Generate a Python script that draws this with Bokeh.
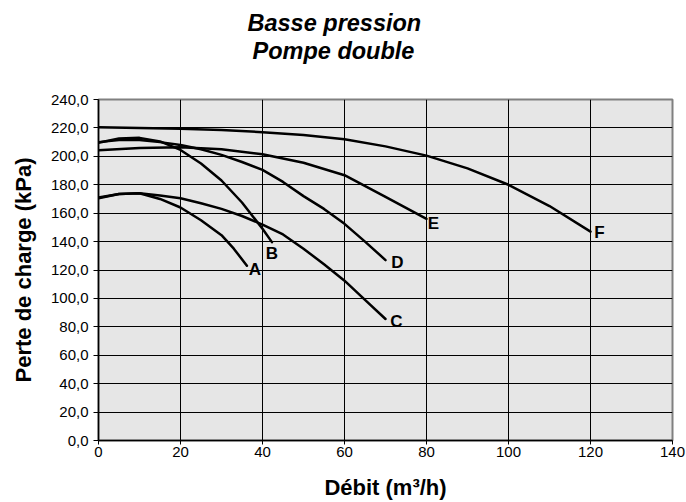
from bokeh.plotting import figure
from bokeh.models import Title, FixedTicker, Range1d, ColumnDataSource
from bokeh.core.properties import value
from bokeh.embed import file_html
from bokeh.resources import INLINE

# ---- data ----
title_lines = ["Basse pression", "Pompe double"]
x_label = "Débit (m³/h)"
y_label = "Perte de charge (kPa)"

x_ticks = [0, 20, 40, 60, 80, 100, 120, 140]
y_ticks = [0, 20, 40, 60, 80, 100, 120, 140, 160, 180, 200, 220, 240]
y_tick_labels = ["0,0", "20,0", "40,0", "60,0", "80,0", "100,0", "120,0",
                 "140,0", "160,0", "180,0", "200,0", "220,0", "240,0"]

a_x = [0, 5, 10, 15, 20, 25, 30, 33, 36.2]
a_y = [170.5, 173.5, 174, 170, 164, 155, 144.5, 135, 123]

b_x = [0, 5, 10, 15, 20, 25, 30, 35, 40, 42.3]
b_y = [209.5, 212.5, 213, 210.5, 204.5, 195, 183, 167.5, 149, 139.6]

c_x = [0, 5, 10, 15, 20, 25, 30, 35, 40, 45, 50, 55, 60, 65, 70]
c_y = [171, 173.5, 174, 172.5, 170.5, 167, 163, 158, 152, 145, 135, 124, 112.5, 99, 85.5]

d_x = [0, 5, 10, 15, 20, 25, 30, 35, 40, 45, 50, 55, 60, 65, 70]
d_y = [210, 211.5, 211.5, 210, 208, 205, 201, 196, 190.5, 182, 172, 163, 152.5, 140, 127]

e_x = [0, 10, 20, 30, 40, 50, 60, 70, 80]
e_y = [204.3, 205.8, 206.4, 205, 201.5, 195.5, 186.7, 171.5, 156]

f_x = [0, 10, 20, 30, 40, 50, 60, 70, 80, 90, 100, 110, 120]
f_y = [220.5, 220, 219.5, 218.5, 217, 215, 212, 207, 200.5, 191.5, 180, 165, 147]

curve_names = ["A", "B", "C", "D", "E", "F"]
curves_x = [a_x, b_x, c_x, d_x, e_x, f_x]
curves_y = [a_y, b_y, c_y, d_y, e_y, f_y]

# ---- styling ----
FONT = "Liberation Sans"

p = figure(width=686, height=502, title=None,
           x_range=Range1d(0, 140), y_range=Range1d(0, 240),
           output_backend="svg", toolbar_location=None,
           min_border_left=98, min_border_right=14,
           min_border_top=99, min_border_bottom=62)

p.background_fill_color = "#E6E6E6"
p.border_fill_color = "white"
p.outline_line_color = "#808080"
p.outline_line_width = 2

for ax in (p.xaxis[0], p.yaxis[0]):
    ax.axis_line_color = "black"
    ax.axis_line_width = 1.5
    ax.major_tick_line_color = "black"
    ax.major_tick_in = 0
    ax.minor_tick_line_color = None
    ax.major_label_text_font = FONT
    ax.major_label_text_font_size = "15px"
    ax.major_label_text_color = "black"
    ax.axis_label_text_font = FONT
    ax.axis_label_text_font_style = "bold"
    ax.axis_label_text_font_size = "22px"
    ax.axis_label_text_color = "black"

p.xaxis.ticker = FixedTicker(ticks=x_ticks)
p.yaxis.ticker = FixedTicker(ticks=y_ticks)
p.yaxis.major_label_overrides = {t: s for t, s in zip(y_ticks, y_tick_labels)}
p.xaxis.axis_label = x_label
p.yaxis.axis_label = y_label
p.xaxis.major_tick_out = 4
p.yaxis.major_tick_out = 5
p.xaxis.major_label_standoff = 2
p.yaxis.major_label_standoff = 5
p.xaxis.axis_label_standoff = 15
p.yaxis.axis_label_standoff = 12

p.xgrid.grid_line_color = "black"
p.ygrid.grid_line_color = "black"
p.xgrid.grid_line_width = 1
p.ygrid.grid_line_width = 1

for cx, cy in zip(curves_x, curves_y):
    p.line(cx, cy, line_color="black", line_width=2.5,
           line_join="round", line_cap="round")

lab_src = ColumnDataSource(dict(
    x=[c[-1] for c in curves_x],
    y=[c[-1] for c in curves_y],
    text=curve_names,
    dx=[8, 0, 11, 12, 7, 9],
    dy=[4, 11, 2, 2, 5, 1],
))
p.text(x="x", y="y", text="text", x_offset="dx", y_offset="dy", source=lab_src,
       text_font=value(FONT), text_font_style="bold", text_font_size="17px",
       text_align="center", text_baseline="middle", text_color="black")

# spacer between the title block and the plot frame
p.add_layout(Title(text=" ", standoff=33, text_font_size="1px"), "above")

# two-line title: the line nearest the frame is added first
title_offsets = [149, 154]
for line, off in reversed(list(zip(title_lines, title_offsets))):
    t = Title(text=line, align="left", offset=off, standoff=0,
              vertical_align="bottom",
              text_font=FONT, text_font_style="bold italic",
              text_font_size="23.5px", text_color="black")
    p.add_layout(t, "above")

open("out.html", "w").write(file_html(p, INLINE))
